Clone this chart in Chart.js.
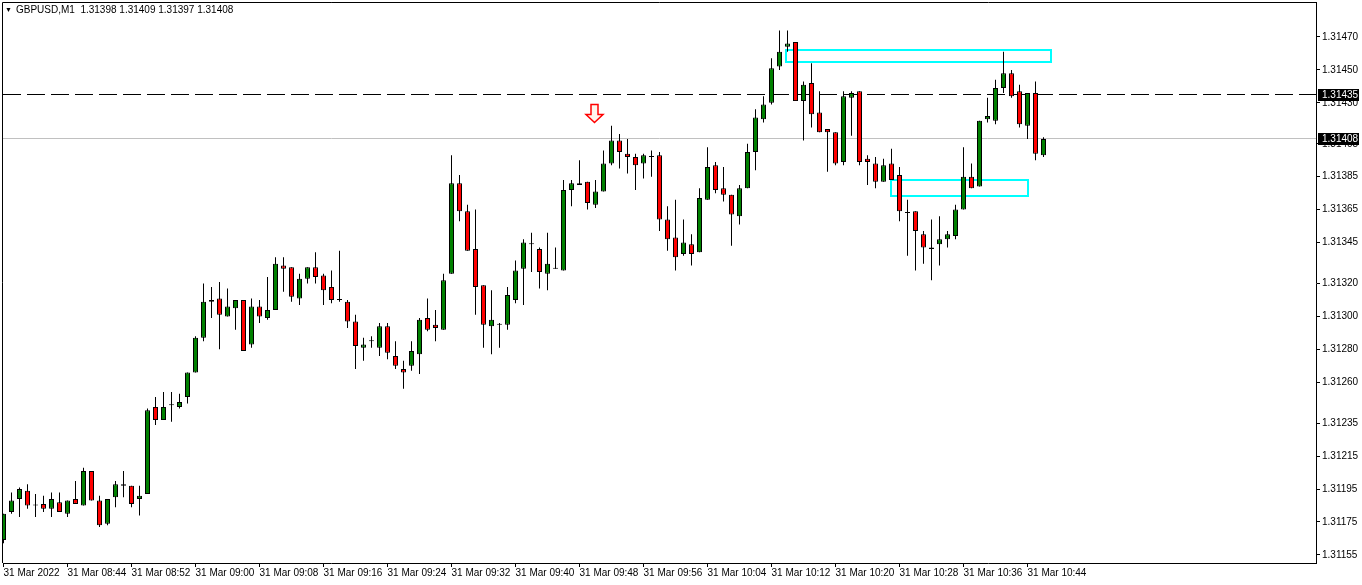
<!DOCTYPE html>
<html>
<head>
<meta charset="utf-8">
<title>GBPUSD,M1</title>
<script src="https://cdn.jsdelivr.net/npm/chart.js@4.4.1/dist/chart.umd.min.js"></script>
<style>
  html, body { margin: 0; padding: 0; background: #fff; }
  #wrap { position: relative; width: 1362px; height: 585px; }
  #chart { display: block; }
  #title { position: absolute; left: 5px; top: 3px; font: 10px 'Liberation Sans', Arial, sans-serif; color: #000; white-space: pre; line-height: 14px; }
  #title .tri { font-size: 7px; vertical-align: 1px; margin-right: 4px; }
</style>
</head>
<body>
<div id="wrap">
  <canvas id="chart" width="1362" height="585"></canvas>
  <div id="title"><span class="tri">▼</span><span id="title-text"></span></div>
</div>
<script>
const SYMBOL = 'GBPUSD';
const PERIOD = 'M1';

// one candle per minute, 08:36 .. 10:46
const openP = [
  1.31164,1.31181,1.31189,1.31194,1.31185,1.31186,1.31183,1.31187,1.31180,1.31189,
  1.31185,1.31206,1.31188,1.31174,1.31190,1.31197,1.31197,1.31189,1.31192,1.31245,
  1.31237,1.31246,1.31245,1.31251,1.31266,1.31287,1.31309,1.31311,1.31300,1.31305,
  1.31310,1.31283,1.31306,1.31299,1.31304,1.31331,1.31330,1.31311,1.31323,1.31330,
  1.31325,1.31318,1.31310,1.31309,1.31297,1.31281,1.31285,1.31281,1.31294,1.31276,
  1.31268,1.31270,1.31277,1.31299,1.31295,1.31292,1.31326,1.31381,1.31364,1.31341,
  1.31319,1.31294,1.31295,1.31295,1.31310,1.31329,1.31344,1.31341,1.31326,1.31329,
  1.31328,1.31377,1.31380,1.31382,1.31368,1.31376,1.31393,1.31407,1.31399,1.31397,
  1.31393,1.31397,1.31398,1.31359,1.31348,1.31338,1.31344,1.31339,1.31371,1.31392,
  1.31378,1.31374,1.31361,1.31378,1.31400,1.31420,1.31430,1.31452,1.31464,1.31467,
  1.31431,1.31442,1.31424,1.31414,1.31412,1.31394,1.31433,1.31437,1.31396,1.31393,
  1.31382,1.31393,1.31386,1.31363,1.31364,1.31350,1.31342,1.31344,1.31347,1.31349,
  1.31365,1.31385,1.31379,1.31420,1.31419,1.31439,1.31448,1.31437,1.31416,1.31436,
  1.31398
];
const highP = [
  1.31180,1.31193,1.31196,1.31198,1.31192,1.31191,1.31193,1.31193,1.31188,1.31200,
  1.31208,1.31206,1.31191,1.31189,1.31200,1.31206,1.31197,1.31197,1.31244,1.31251,
  1.31254,1.31254,1.31253,1.31266,1.31288,1.31320,1.31318,1.31321,1.31317,1.31310,
  1.31310,1.31311,1.31310,1.31324,1.31336,1.31336,1.31330,1.31326,1.31330,1.31339,
  1.31326,1.31328,1.31340,1.31310,1.31301,1.31287,1.31288,1.31296,1.31296,1.31285,
  1.31273,1.31285,1.31299,1.31311,1.31304,1.31326,1.31398,1.31386,1.31368,1.31365,
  1.31319,1.31316,1.31296,1.31318,1.31334,1.31347,1.31351,1.31342,1.31351,1.31342,
  1.31383,1.31383,1.31395,1.31382,1.31383,1.31401,1.31416,1.31411,1.31408,1.31399,
  1.31399,1.31401,1.31400,1.31367,1.31371,1.31359,1.31350,1.31378,1.31403,1.31394,
  1.31391,1.31374,1.31380,1.31405,1.31426,1.31434,1.31457,1.31474,1.31474,1.31467,
  1.31443,1.31454,1.31437,1.31414,1.31412,1.31437,1.31437,1.31437,1.31398,1.31397,
  1.31396,1.31402,1.31391,1.31371,1.31364,1.31352,1.31359,1.31361,1.31352,1.31368,
  1.31403,1.31393,1.31419,1.31433,1.31444,1.31461,1.31450,1.31441,1.31436,1.31443,
  1.31409
];
const lowP = [
  1.31162,1.31180,1.31178,1.31183,1.31178,1.31181,1.31178,1.31181,1.31178,1.31186,
  1.31185,1.31188,1.31172,1.31173,1.31184,1.31190,1.31184,1.31179,1.31192,1.31234,
  1.31237,1.31236,1.31244,1.31247,1.31266,1.31285,1.31299,1.31280,1.31300,1.31292,
  1.31279,1.31281,1.31296,1.31298,1.31304,1.31315,1.31309,1.31307,1.31320,1.31320,
  1.31307,1.31308,1.31309,1.31293,1.31268,1.31273,1.31281,1.31276,1.31274,1.31268,
  1.31256,1.31267,1.31265,1.31291,1.31285,1.31292,1.31326,1.31358,1.31340,1.31301,
  1.31281,1.31277,1.31281,1.31292,1.31308,1.31307,1.31327,1.31317,1.31316,1.31329,
  1.31328,1.31367,1.31380,1.31365,1.31366,1.31376,1.31392,1.31390,1.31387,1.31377,
  1.31384,1.31385,1.31352,1.31340,1.31328,1.31337,1.31331,1.31339,1.31371,1.31375,
  1.31370,1.31343,1.31356,1.31378,1.31389,1.31418,1.31429,1.31450,1.31461,1.31431,
  1.31407,1.31415,1.31412,1.31388,1.31392,1.31392,1.31410,1.31392,1.31380,1.31378,
  1.31382,1.31383,1.31358,1.31337,1.31328,1.31332,1.31322,1.31331,1.31342,1.31347,
  1.31365,1.31378,1.31379,1.31418,1.31417,1.31436,1.31433,1.31415,1.31408,1.31395,
  1.31397
];
const closeP = [
  1.31180,1.31188,1.31195,1.31185,1.31185,1.31183,1.31189,1.31181,1.31188,1.31186,
  1.31206,1.31188,1.31173,1.31189,1.31198,1.31198,1.31186,1.31191,1.31243,1.31237,
  1.31245,1.31246,1.31248,1.31266,1.31287,1.31309,1.31310,1.31301,1.31306,1.31310,
  1.31279,1.31306,1.31300,1.31304,1.31332,1.31329,1.31312,1.31323,1.31330,1.31324,
  1.31316,1.31310,1.31310,1.31297,1.31282,1.31283,1.31285,1.31294,1.31278,1.31270,
  1.31266,1.31279,1.31298,1.31292,1.31293,1.31322,1.31381,1.31364,1.31340,1.31318,
  1.31295,1.31298,1.31295,1.31313,1.31328,1.31345,1.31344,1.31327,1.31332,1.31329,
  1.31377,1.31381,1.31381,1.31369,1.31376,1.31393,1.31407,1.31400,1.31397,1.31392,
  1.31398,1.31397,1.31359,1.31347,1.31336,1.31345,1.31338,1.31372,1.31391,1.31377,
  1.31374,1.31362,1.31378,1.31400,1.31421,1.31429,1.31451,1.31461,1.31466,1.31431,
  1.31441,1.31423,1.31412,1.31412,1.31393,1.31434,1.31436,1.31394,1.31394,1.31382,
  1.31392,1.31383,1.31364,1.31363,1.31352,1.31342,1.31341,1.31347,1.31350,1.31365,
  1.31385,1.31378,1.31419,1.31422,1.31439,1.31448,1.31434,1.31417,1.31436,1.31399,
  1.31408
];

// time axis: a label every 8 bars
const timeTickIdx = [0, 8, 16, 24, 32, 40, 48, 56, 64, 72, 80, 88, 96, 104, 112, 120, 128];
const timeLabels = [
  '31 Mar 2022', '31 Mar 08:44', '31 Mar 08:52', '31 Mar 09:00', '31 Mar 09:08', '31 Mar 09:16',
  '31 Mar 09:24', '31 Mar 09:32', '31 Mar 09:40', '31 Mar 09:48', '31 Mar 09:56', '31 Mar 10:04',
  '31 Mar 10:12', '31 Mar 10:20', '31 Mar 10:28', '31 Mar 10:36', '31 Mar 10:44'
];

// price scale
const priceTicks = [1.31470, 1.31450, 1.31430, 1.31405, 1.31385, 1.31365, 1.31345, 1.31320,
  1.31300, 1.31280, 1.31260, 1.31235, 1.31215, 1.31195, 1.31175, 1.31155];
const PRICE_MIN = 1.3115005;
const PRICE_MAX = 1.3149068;
const BAR_MIN = -0.0625;
const BAR_MAX = 164.0625;

// objects on the chart
const levelPrice = 1.31435;
const zoneStart = [97.8, 110.9];
const zoneEnd = [130.9, 128.0];
const zoneTop = [1.31462, 1.31383];
const zoneBottom = [1.31455, 1.31373];
const arrowIdx = 74;
const arrowPrice = 1.31418;

const UP_COLOR = '#008000';
const DOWN_COLOR = '#ff0000';
const FONT = { family: "'Liberation Sans', Arial, sans-serif", size: 10 };

const fmtPrice = v => v.toFixed(5);
const last = closeP.length - 1;
const bidPrice = closeP[last];

document.getElementById('title-text').textContent =
  `${SYMBOL},${PERIOD}  ${fmtPrice(openP[last])} ${fmtPrice(highP[last])} ${fmtPrice(lowP[last])} ${fmtPrice(closeP[last])}`;

const barIdx = openP.map((_, i) => i);
const wickData = barIdx.map(i => ({ x: i, y: [lowP[i], highP[i]] }));
const bodyData = barIdx.map(i => ({ x: i, y: [openP[i], closeP[i]] }));
const bodyColors = barIdx.map(i =>
  closeP[i] > openP[i] ? UP_COLOR : closeP[i] < openP[i] ? DOWN_COLOR : '#000');

const mtObjects = {
  id: 'mtObjects',
  beforeDatasetsDraw(chart) {
    const { ctx, chartArea: a, scales: { x, y } } = chart;
    ctx.save();
    ctx.beginPath();
    ctx.rect(a.left, a.top, a.right - a.left, a.bottom - a.top);
    ctx.clip();

    // bid line
    let py = Math.floor(y.getPixelForValue(bidPrice)) + 0.5;
    ctx.strokeStyle = '#c0c0c0';
    ctx.lineWidth = 1;
    ctx.beginPath(); ctx.moveTo(a.left, py); ctx.lineTo(a.right, py); ctx.stroke();

    // horizontal level
    py = Math.floor(y.getPixelForValue(levelPrice)) + 0.5;
    ctx.strokeStyle = '#000';
    ctx.setLineDash([18, 6]);
    ctx.beginPath(); ctx.moveTo(a.left, py); ctx.lineTo(a.right, py); ctx.stroke();
    ctx.setLineDash([]);

    // rectangles
    ctx.strokeStyle = '#00ffff';
    ctx.lineWidth = 2;
    zoneStart.forEach((s, i) => {
      const x0 = Math.round(x.getPixelForValue(s));
      const x1 = Math.round(x.getPixelForValue(zoneEnd[i]));
      const y0 = Math.round(y.getPixelForValue(zoneTop[i]));
      const y1 = Math.round(y.getPixelForValue(zoneBottom[i]));
      ctx.strokeRect(x0, y0, x1 - x0, y1 - y0);
    });

    // sell arrow
    const cx = x.getPixelForValue(arrowIdx) - 1;
    const ty = y.getPixelForValue(arrowPrice);
    ctx.beginPath();
    ctx.moveTo(cx - 3.5, ty - 18);
    ctx.lineTo(cx + 3.5, ty - 18);
    ctx.lineTo(cx + 3.5, ty - 8);
    ctx.lineTo(cx + 8.5, ty - 8);
    ctx.lineTo(cx, ty);
    ctx.lineTo(cx - 8.5, ty - 8);
    ctx.lineTo(cx - 3.5, ty - 8);
    ctx.closePath();
    ctx.fillStyle = '#fff6ee';
    ctx.fill();
    ctx.strokeStyle = '#ff0000';
    ctx.lineWidth = 1.5;
    ctx.stroke();
    ctx.restore();
  },
  afterDraw(chart) {
    const { ctx, chartArea: a, scales: { y } } = chart;
    ctx.save();
    // frame
    ctx.strokeStyle = '#000';
    ctx.lineWidth = 1;
    ctx.beginPath();
    ctx.moveTo(a.left - 0.5, a.bottom);
    ctx.lineTo(a.left - 0.5, a.top - 0.5);
    ctx.lineTo(a.right + 1, a.top - 0.5);
    ctx.stroke();

    // price labels on the scale
    ctx.font = `${FONT.size}px ${FONT.family}`;
    ctx.textBaseline = 'middle';
    ctx.textAlign = 'left';
    [levelPrice, bidPrice].forEach(p => {
      const py = Math.round(y.getPixelForValue(p));
      ctx.fillStyle = '#000';
      ctx.fillRect(a.right + 2, py - 6, 41, 12);
      ctx.fillStyle = '#fff';
      ctx.fillText(fmtPrice(p), a.right + 6, py);
    });
    ctx.restore();
  }
};

new Chart(document.getElementById('chart'), {
  type: 'bar',
  data: {
    datasets: [
      {
        label: 'body',
        data: bodyData,
        backgroundColor: bodyColors,
        borderColor: '#000',
        borderWidth: 1,
        borderSkipped: false,
        barThickness: 5,
        minBarLength: 1,
        inflateAmount: 0,
        grouped: false,
        order: 0,
      },
      {
        label: 'wick',
        data: wickData,
        backgroundColor: '#000',
        borderWidth: 0,
        barThickness: 1,
        inflateAmount: 0,
        grouped: false,
        order: 1,
      },
    ],
  },
  options: {
    responsive: false,
    animation: false,
    devicePixelRatio: 1,
    layout: { padding: { left: 3, top: 3, right: 0, bottom: 0 } },
    plugins: {
      legend: { display: false },
      tooltip: { enabled: false },
    },
    scales: {
      x: {
        type: 'linear',
        min: BAR_MIN,
        max: BAR_MAX,
        offset: false,
        grid: { offset: false, drawOnChartArea: false, drawTicks: true, tickLength: 4, color: '#000' },
        border: { display: true, color: '#000' },
        ticks: {
          autoSkip: false,
          maxRotation: 0,
          align: 'start',
          padding: 0,
          color: '#000',
          font: FONT,
          callback: (v, i) => timeLabels[i],
        },
        afterBuildTicks: s => { s.ticks = timeTickIdx.map(v => ({ value: v })); },
        afterFit: s => { s.height = 22; s.paddingLeft = 0; s.paddingRight = 0; },
      },
      y: {
        type: 'linear',
        position: 'right',
        min: PRICE_MIN,
        max: PRICE_MAX,
        beginAtZero: false,
        grid: { drawOnChartArea: false, drawTicks: true, tickLength: 4, color: '#000' },
        border: { display: true, color: '#000' },
        ticks: {
          autoSkip: false,
          padding: 2,
          color: '#000',
          font: FONT,
          callback: v => fmtPrice(v),
        },
        afterBuildTicks: s => { s.ticks = priceTicks.map(v => ({ value: v })); },
        afterFit: s => { s.width = 46; s.paddingTop = 0; s.paddingBottom = 0; },
      },
    },
  },
  plugins: [mtObjects],
});
</script>
</body>
</html>
